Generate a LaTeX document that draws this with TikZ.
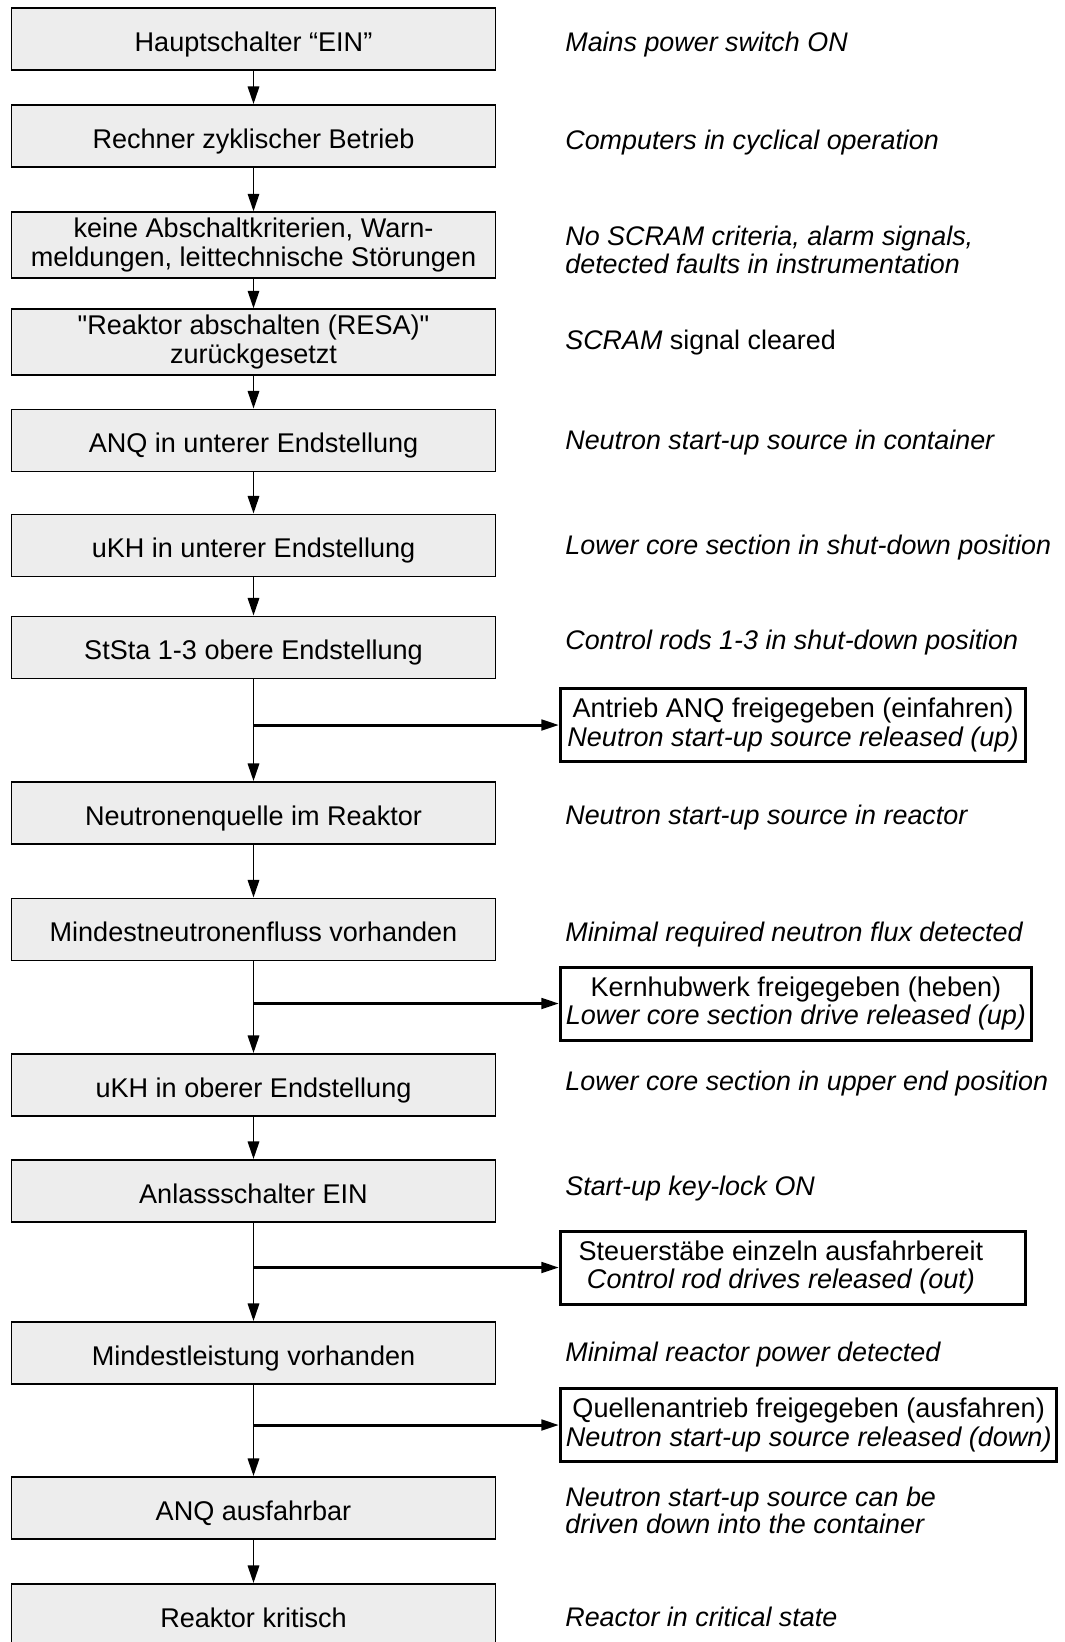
\documentclass[tikz,border=0pt]{standalone}
\usepackage{fontspec}
\setmainfont{Liberation Sans}
\usetikzlibrary{arrows.meta}

\begin{document}
\begin{tikzpicture}[
  box/.style={draw, fill=black!7, line width=1.1pt, rectangle, align=center,
              minimum width=9.68cm, minimum height=1.24cm,
              font=\fontsize{15.4}{16.2}\selectfont},
  boxs/.style={box, text height=14pt, text depth=0pt},
  side/.style={draw, line width=1.7pt, rectangle, align=center, anchor=west,
               minimum width=9.3cm, minimum height=1.46cm, inner xsep=3pt,
               font=\fontsize{15.4}{16}\selectfont},
  note/.style={anchor=west, inner sep=0pt, align=left,
               font=\fontsize{15.3}{15.5}\selectfont\itshape},
  a/.style={line width=1.1pt, -{Triangle[length=10pt, width=6.5pt]}},
  br/.style={line width=1.7pt, -{Triangle[length=10pt, width=6pt]}}]

  \useasboundingbox (0,0) rectangle (21.3,-32.84);

  % Ablauf
  \node[boxs] (haupt)  at (5.07,-0.78)  {Hauptschalter “EIN”};
  \node[boxs] (rech)   at (5.07,-2.72)  {Rechner zyklischer Betrieb};
  \node[box]  (krit)   at (5.07,-4.90)  {keine Abschaltkriterien, Warn-\\meldungen, leittechnische Störungen};
  \node[box]  (resa)   at (5.07,-6.84)  {\textquotedbl Reaktor abschalten (RESA)\textquotedbl\\zurückgesetzt};
  \node[boxs] (anq)    at (5.07,-8.81)  {ANQ in unterer Endstellung};
  \node[boxs] (ukhu)   at (5.07,-10.91) {uKH in unterer Endstellung};
  \node[boxs] (ststa)  at (5.07,-12.95) {StSta 1-3 obere Endstellung};
  \node[boxs] (quelle) at (5.07,-16.26) {Neutronenquelle im Reaktor};
  \node[boxs] (fluss)  at (5.07,-18.59) {Mindestneutronenfluss vorhanden};
  \node[boxs] (ukho)   at (5.07,-21.70) {uKH in oberer Endstellung};
  \node[boxs] (anlass) at (5.07,-23.82) {Anlassschalter EIN};
  \node[boxs] (leist)  at (5.07,-27.06) {Mindestleistung vorhanden};
  \node[boxs] (anqaus) at (5.07,-30.16) {ANQ ausfahrbar};
  \node[boxs] (kritr)  at (5.07,-32.30) {Reaktor kritisch};

  % Freigaben
  \node[side] (frA) at (11.18,-14.50) {Antrieb ANQ freigegeben (einfahren)\\\textit{Neutron start-up source released (up)}};
  \node[side] (frB) at (11.18,-20.07) {Kernhubwerk freigegeben (heben)\\\textit{Lower core section drive released (up)}};
  \node[side] (frC) at (11.18,-25.35) {Steuerstäbe einzeln ausfahrbereit\hspace*{0.48cm}\\\textit{Control rod drives released (out)}\hspace*{0.48cm}};
  \node[side] (frD) at (11.18,-28.50) {Quellenantrieb freigegeben (ausfahren)\\\textit{Neutron start-up source released (down)}};

  % englische Texte
  \node[note] (tHaupt)  at (11.30,-0.90)  {Mains power switch ON};
  \node[note] (tRech)   at (11.30,-2.86)  {Computers in cyclical operation};
  \node[note] (tKrit)   at (11.30,-5.00)  {No SCRAM criteria, alarm signals,\\detected faults in instrumentation};
  \node[note] (tResa)   at (11.30,-6.86)  {SCRAM \upshape signal cleared};
  \node[note] (tAnq)    at (11.30,-8.86)  {Neutron start-up source in container};
  \node[note] (tUkhu)   at (11.30,-10.96) {Lower core section in shut-down position};
  \node[note] (tStsta)  at (11.30,-12.86) {Control rods 1-3 in shut-down position};
  \node[note] (tQuelle) at (11.30,-16.36) {Neutron start-up source in reactor};
  \node[note] (tFluss)  at (11.30,-18.70) {Minimal required neutron flux detected};
  \node[note] (tUkho)   at (11.30,-21.68) {Lower core section in upper end position};
  \node[note] (tAnlass) at (11.30,-23.78) {Start-up key-lock ON};
  \node[note] (tLeist)  at (11.30,-27.10) {Minimal reactor power detected};
  \node[note] (tAnqaus) at (11.30,-30.20) {Neutron start-up source can be\\driven down into the container};
  \node[note] (tKritr)  at (11.30,-32.34) {Reactor in critical state};

  \coordinate (jA) at (ststa.south |- frA.west);
  \coordinate (jB) at (fluss.south |- frB.west);
  \coordinate (jC) at (anlass.south |- frC.west);
  \coordinate (jD) at (leist.south |- frD.west);

  \draw[a] (haupt) -- (rech);
  \draw[a] (rech) -- (krit);
  \draw[a] (krit) -- (resa);
  \draw[a] (resa) -- (anq);
  \draw[a] (anq) -- (ukhu);
  \draw[a] (ukhu) -- (ststa);
  \draw[a] (ststa) -- (quelle);
  \draw[a] (quelle) -- (fluss);
  \draw[a] (fluss) -- (ukho);
  \draw[a] (ukho) -- (anlass);
  \draw[a] (anlass) -- (leist);
  \draw[a] (leist) -- (anqaus);
  \draw[a] (anqaus) -- (kritr);

  \draw[br] (jA) -- (frA);
  \draw[br] (jB) -- (frB);
  \draw[br] (jC) -- (frC);
  \draw[br] (jD) -- (frD);

\end{tikzpicture}
\end{document}
